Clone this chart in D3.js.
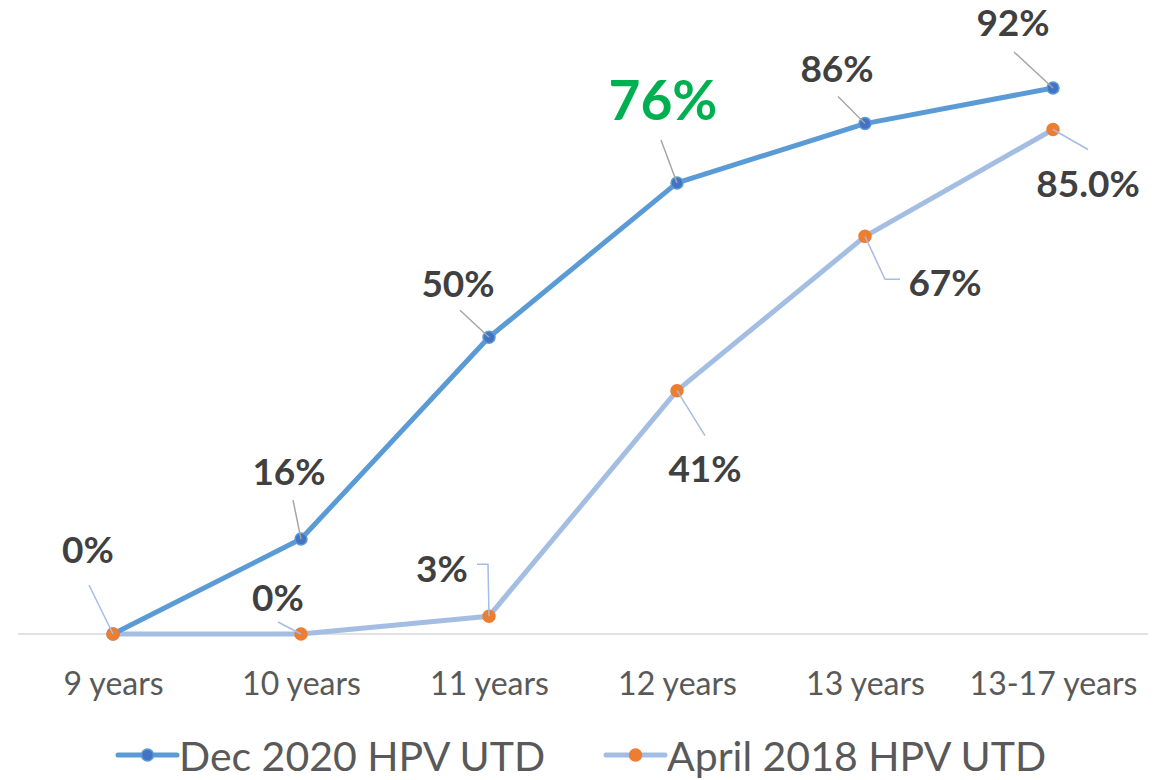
<!DOCTYPE html>
<html>
<head>
<meta charset="utf-8">
<script src="https://cdn.jsdelivr.net/npm/d3@7"></script>
<style>
  body { margin: 0; background: #fff; }
  svg text { font-family: Lato, "Open Sans", sans-serif; }
</style>
</head>
<body>
<svg width="1171" height="780"></svg>
<script>
var categories = ["9 years", "10 years", "11 years", "12 years", "13 years", "13-17 years"];
var dec2020 = [0, 16, 50, 76, 86, 92];
var apr2018 = [0, 0, 3, 41, 67, 85];
var dec2020Labels = ["", "16%", "50%", "76%", "86%", "92%"];
var apr2018Labels = ["0%", "0%", "3%", "41%", "67%", "85.0%"];

// label placement relative to the point (dx, dy of label centre) + leader path
var decLayout = [
  null,
  {dx: -12, dy: -69, lead: [[-8, -39], [0, 0]]},
  {dx: -31, dy: -55, lead: [[-29, -27], [0, 0]]},
  {dx: -14, dy: -84, lead: [[-16, -43], [0, 0]], big: true},
  {dx: -28, dy: -56, lead: [[-27, -27], [0, 0]]},
  {dx: -40, dy: -66, lead: [[-39, -36], [0, 0]]}
];
var aprLayout = [
  {dx: -25, dy: -86, lead: [[-24, -49], [0, 0]]},
  {dx: -23, dy: -38, lead: [[-23, -12], [0, 0]]},
  {dx: -47, dy: -49, lead: [[-12, -52], [-1, -52], [0, 0]]},
  {dx: 28, dy: 77, lead: [[28, 45], [0, 0]]},
  {dx: 80, dy: 45, lead: [[35, 43], [20, 43], [0, 0]]},
  {dx: 35, dy: 53, lead: [[35, 20], [0, 0]]}
];

var svg = d3.select("svg");

var x = d3.scalePoint()
    .domain(categories)
    .range([113, 1053]);

var y = d3.scaleLinear()
    .domain([0, 100])
    .range([634, 40.5]);

// baseline
svg.append("line")
  .attr("x1", 18).attr("x2", 1148)
  .attr("y1", y(0)).attr("y2", y(0))
  .attr("stroke", "#d9d9d9")
  .attr("stroke-width", 1.5);

// category labels
var xAxis = d3.axisBottom(x).tickSize(0).tickPadding(0);
var gx = svg.append("g")
  .attr("transform", "translate(0," + y(0) + ")")
  .call(xAxis);
gx.select(".domain").remove();
gx.selectAll("text")
  .attr("y", 61)
  .attr("dy", null)
  .attr("fill", "#595959")
  .style("font-size", "32px")
  .style("font-family", "Lato, sans-serif");

var line = d3.line()
  .x(function(d, i) { return x(categories[i]); })
  .y(function(d) { return y(d); });

function drawSeries(values, lineColor) {
  svg.append("path")
    .datum(values)
    .attr("d", line)
    .attr("fill", "none")
    .attr("stroke", lineColor)
    .attr("stroke-width", 5)
    .attr("stroke-linejoin", "round");
}

drawSeries(apr2018, "#a4bde3");
drawSeries(dec2020, "#5b9bd5");

function drawMarkers(values, fill, stroke) {
  svg.append("g").selectAll("circle")
    .data(values)
    .enter().append("circle")
      .attr("cx", function(d, i) { return x(categories[i]); })
      .attr("cy", function(d) { return y(d); })
      .attr("r", 6)
      .attr("fill", fill)
      .attr("stroke", stroke)
      .attr("stroke-width", 1.5);
}

drawMarkers(dec2020, "#4472c4", "#5b9bd5");
drawMarkers(apr2018, "#ed7d31", "#ed7d31");

function drawLabels(values, labels, layout, leadColor) {
  values.forEach(function(v, i) {
    var l = layout[i];
    if (!l || !labels[i]) return;
    var px = x(categories[i]), py = y(v);
    svg.append("polyline")
      .attr("points", l.lead.map(function(p) { return (px + p[0]) + "," + (py + p[1]); }).join(" "))
      .attr("fill", "none")
      .attr("stroke", leadColor)
      .attr("stroke-width", 1.5);
    svg.append("text")
      .attr("x", px + l.dx)
      .attr("y", py + l.dy)
      .attr("text-anchor", "middle")
      .attr("dominant-baseline", "central")
      .attr("font-weight", "bold")
      .attr("fill", l.big ? "#00b050" : "#404040")
      .style("font-size", l.big ? "55px" : "37px")
      .text(labels[i]);
  });
}

drawLabels(apr2018, apr2018Labels, aprLayout, "#a4bde3");
drawLabels(dec2020, dec2020Labels, decLayout, "#a6a6a6");

// legend
var legend = [
  {name: "Dec 2020 HPV UTD", line: "#5b9bd5", fill: "#4472c4", stroke: "#5b9bd5", x: 118},
  {name: "April 2018 HPV UTD", line: "#a4bde3", fill: "#ed7d31", stroke: "#ed7d31", x: 606}
];
var lg = svg.append("g").selectAll("g")
  .data(legend)
  .enter().append("g")
    .attr("transform", function(d) { return "translate(" + d.x + ",755)"; });
lg.append("line")
  .attr("x1", 0).attr("x2", 59)
  .attr("stroke", function(d) { return d.line; })
  .attr("stroke-width", 5)
  .attr("stroke-linecap", "round");
lg.append("circle")
  .attr("cx", 29.5)
  .attr("r", 6)
  .attr("fill", function(d) { return d.fill; })
  .attr("stroke", function(d) { return d.stroke; })
  .attr("stroke-width", 1.5);
lg.append("text")
  .attr("x", 61)
  .attr("dominant-baseline", "central")
  .attr("fill", "#595959")
  .style("font-size", "41px")
  .text(function(d) { return d.name; });
</script>
</body>
</html>
